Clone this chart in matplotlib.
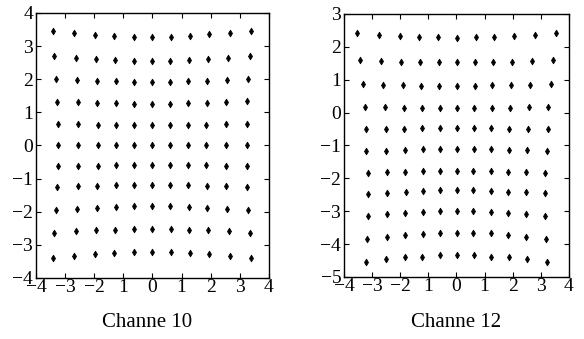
import matplotlib
matplotlib.use('Agg')
import matplotlib.pyplot as plt

plt.rcParams['font.family'] = ['Liberation Serif', 'DejaVu Serif']

# Channe 10 -- grid points, one list per row (top to bottom)
ch10_x = [
    [-3.43, -2.70, -1.97, -1.31, -0.65, 0.00, 0.62, 1.29, 1.95, 2.66, 3.39],
    [-3.37, -2.63, -1.94, -1.28, -0.65, 0.00, 0.61, 1.24, 1.92, 2.60, 3.34],
    [-3.31, -2.58, -1.89, -1.25, -0.63, 0.00, 0.61, 1.23, 1.87, 2.56, 3.28],
    [-3.28, -2.57, -1.90, -1.25, -0.63, 0.00, 0.61, 1.23, 1.86, 2.53, 3.24],
    [-3.26, -2.55, -1.88, -1.24, -0.63, 0.00, 0.61, 1.22, 1.85, 2.52, 3.23],
    [-3.26, -2.54, -1.88, -1.24, -0.63, 0.00, 0.61, 1.22, 1.85, 2.51, 3.23],
    [-3.26, -2.54, -1.88, -1.24, -0.63, 0.00, 0.61, 1.22, 1.85, 2.52, 3.23],
    [-3.27, -2.57, -1.90, -1.25, -0.63, 0.00, 0.61, 1.23, 1.86, 2.54, 3.24],
    [-3.31, -2.58, -1.91, -1.25, -0.62, 0.00, 0.61, 1.24, 1.88, 2.57, 3.29],
    [-3.37, -2.63, -1.94, -1.28, -0.65, 0.00, 0.62, 1.25, 1.92, 2.62, 3.34],
    [-3.43, -2.70, -1.97, -1.31, -0.65, 0.00, 0.62, 1.29, 1.95, 2.66, 3.39],
]
ch10_y = [
    [3.44, 3.38, 3.33, 3.30, 3.27, 3.27, 3.27, 3.31, 3.35, 3.38, 3.45],
    [2.70, 2.64, 2.61, 2.58, 2.55, 2.55, 2.56, 2.59, 2.61, 2.64, 2.71],
    [2.00, 1.97, 1.95, 1.93, 1.90, 1.90, 1.91, 1.93, 1.95, 1.97, 2.00],
    [1.32, 1.30, 1.29, 1.27, 1.26, 1.26, 1.26, 1.27, 1.29, 1.30, 1.33],
    [0.64, 0.64, 0.63, 0.63, 0.63, 0.63, 0.63, 0.63, 0.63, 0.64, 0.65],
    [0.00, 0.00, 0.00, 0.00, 0.00, 0.00, 0.00, 0.00, 0.00, 0.00, 0.00],
    [-0.62, -0.62, -0.61, -0.60, -0.60, -0.60, -0.60, -0.60, -0.60, -0.62, -0.62],
    [-1.25, -1.22, -1.21, -1.19, -1.19, -1.19, -1.19, -1.19, -1.21, -1.22, -1.25],
    [-1.96, -1.92, -1.90, -1.87, -1.84, -1.84, -1.84, -1.87, -1.90, -1.93, -1.95],
    [-2.63, -2.59, -2.56, -2.54, -2.52, -2.52, -2.52, -2.54, -2.56, -2.59, -2.65],
    [-3.41, -3.34, -3.28, -3.25, -3.22, -3.22, -3.22, -3.25, -3.28, -3.33, -3.41],
]

# Channe 12
ch12_x = [
    [-3.53, -2.76, -2.02, -1.32, -0.66, 0.02, 0.68, 1.35, 2.04, 2.79, 3.55],
    [-3.42, -2.68, -1.96, -1.29, -0.63, 0.02, 0.66, 1.30, 1.98, 2.69, 3.44],
    [-3.34, -2.60, -1.91, -1.25, -0.61, 0.02, 0.65, 1.27, 1.93, 2.63, 3.35],
    [-3.26, -2.54, -1.87, -1.23, -0.60, 0.02, 0.63, 1.25, 1.89, 2.57, 3.27],
    [-3.22, -2.52, -1.86, -1.22, -0.60, 0.02, 0.62, 1.23, 1.88, 2.53, 3.25],
    [-3.20, -2.50, -1.83, -1.20, -0.59, 0.02, 0.61, 1.23, 1.86, 2.51, 3.21],
    [-3.16, -2.47, -1.82, -1.20, -0.59, 0.02, 0.60, 1.22, 1.84, 2.48, 3.17],
    [-3.16, -2.46, -1.81, -1.20, -0.59, 0.01, 0.60, 1.22, 1.83, 2.48, 3.16],
    [-3.16, -2.47, -1.82, -1.20, -0.59, 0.02, 0.60, 1.22, 1.84, 2.48, 3.17],
    [-3.17, -2.48, -1.83, -1.20, -0.59, 0.02, 0.60, 1.22, 1.84, 2.49, 3.18],
    [-3.21, -2.50, -1.84, -1.22, -0.60, 0.02, 0.61, 1.24, 1.86, 2.51, 3.21],
]
ch12_y = [
    [2.41, 2.37, 2.33, 2.31, 2.30, 2.28, 2.31, 2.31, 2.34, 2.37, 2.41],
    [1.60, 1.56, 1.54, 1.54, 1.53, 1.53, 1.53, 1.55, 1.55, 1.57, 1.60],
    [0.87, 0.84, 0.84, 0.82, 0.82, 0.82, 0.82, 0.83, 0.84, 0.84, 0.87],
    [0.17, 0.17, 0.15, 0.15, 0.15, 0.15, 0.15, 0.15, 0.15, 0.18, 0.18],
    [-0.51, -0.51, -0.50, -0.48, -0.48, -0.48, -0.48, -0.48, -0.50, -0.50, -0.50],
    [-1.17, -1.16, -1.14, -1.11, -1.11, -1.11, -1.11, -1.11, -1.14, -1.15, -1.17],
    [-1.85, -1.81, -1.80, -1.78, -1.78, -1.77, -1.78, -1.78, -1.80, -1.80, -1.84],
    [-2.47, -2.44, -2.42, -2.39, -2.37, -2.37, -2.37, -2.39, -2.42, -2.43, -2.46],
    [-3.16, -3.08, -3.04, -3.02, -3.00, -3.00, -3.00, -3.02, -3.04, -3.08, -3.16],
    [-3.84, -3.77, -3.72, -3.69, -3.65, -3.65, -3.65, -3.67, -3.72, -3.77, -3.84],
    [-4.56, -4.46, -4.40, -4.38, -4.33, -4.33, -4.33, -4.38, -4.40, -4.46, -4.56],
]

M = '\u2212'
xtick_vals = [-4, -3, -2, -1, 0, 1, 2, 3, 4]
xtick_text = [M + '4', M + '3', M + '2', '1', '0', '1', '2', '3', '4']
ch10_yticks = [-4, -3, -2, -1, 0, 1, 2, 3, 4]
ch12_yticks = [-5, -4, -3, -2, -1, 0, 1, 2, 3]

fig = plt.figure(figsize=(5.84, 3.39), dpi=100)
ax1 = fig.add_axes([0.0616, 0.180, 0.399, 0.782])
ax2 = fig.add_axes([0.589, 0.183, 0.385, 0.776])


def draw(ax, xs, ys, yticks):
    for rx, ry in zip(xs, ys):
        ax.plot(rx, ry, 'd', color='black', markersize=3.5, markeredgewidth=0.5)
    ax.set_xlim(-4, 4)
    ax.set_ylim(yticks[0], yticks[-1])
    ax.set_xticks(xtick_vals)
    ax.set_xticklabels(xtick_text)
    ax.set_yticks(yticks)
    ax.set_yticklabels([str(t).replace('-', M) for t in yticks])
    ax.tick_params(direction='in', top=True, right=True, length=3.5, width=0.8,
                   labelsize=14)
    ax.tick_params(axis='x', pad=1)
    ax.tick_params(axis='y', pad=2)
    for s in ax.spines.values():
        s.set_linewidth(1.0)


draw(ax1, ch10_x, ch10_y, ch10_yticks)
draw(ax2, ch12_x, ch12_y, ch12_yticks)

fig.text(147 / 584, 0.048, 'Channe 10', ha='center', va='center', fontsize=15)
fig.text(456 / 584, 0.048, 'Channe 12', ha='center', va='center', fontsize=15)

fig.savefig('out.png', dpi=100)
